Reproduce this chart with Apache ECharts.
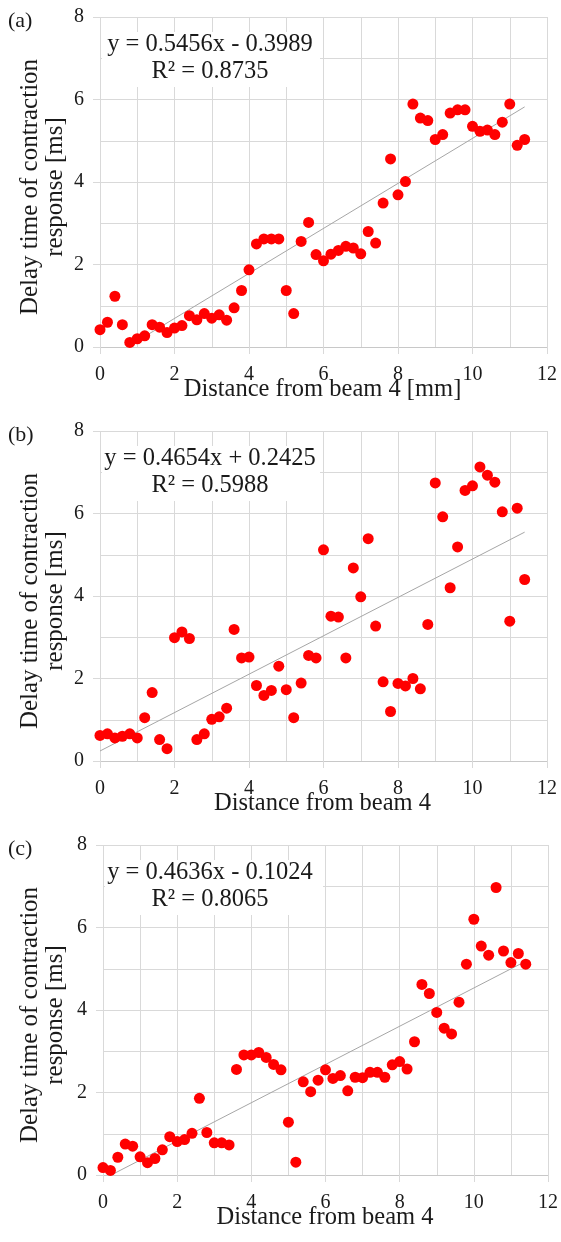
<!DOCTYPE html>
<html>
<head>
<meta charset="utf-8">
<script src="https://cdn.jsdelivr.net/npm/echarts@6/dist/echarts.min.js"></script>
<style>
html,body{margin:0;padding:0;background:#fff;}
#chart{width:561px;height:1242px;}
</style>
</head>
<body>
<div id="chart"></div>
<script>
// Distance from beam 4 (shared x positions)
var distance = [0,0.2,0.4,0.6,0.8,1.0,1.2,1.4,1.6,1.8,2.0,2.2,2.4,2.6,2.8,3.0,3.2,3.4,3.6,3.8,4.0,4.2,4.4,4.6,4.8,5.0,5.2,5.4,5.6,5.8,6.0,6.2,6.4,6.6,6.8,7.0,7.2,7.4,7.6,7.8,8.0,8.2,8.4,8.6,8.8,9.0,9.2,9.4,9.6,9.8,10.0,10.2,10.4,10.6,10.8,11.0,11.2,11.4];

// Delay time [ms] per panel
var delayA = [0.42,0.60,1.23,0.54,0.11,0.20,0.27,0.54,0.48,0.35,
              0.46,0.52,0.76,0.66,0.81,0.70,0.78,0.65,0.95,1.37,
              1.87,2.50,2.62,2.62,2.62,1.37,0.81,2.56,3.02,2.24,
              2.09,2.25,2.34,2.44,2.40,2.26,2.80,2.52,3.49,4.56,
              3.69,4.01,5.89,5.55,5.49,5.03,5.15,5.67,5.75,5.75,
              5.35,5.23,5.26,5.15,5.45,5.89,4.89,5.03];
var delayB = [0.62,0.66,0.56,0.60,0.66,0.56,1.05,1.66,0.52,0.30,
              2.99,3.13,2.97,0.52,0.66,1.01,1.07,1.28,3.19,2.50,
              2.52,1.83,1.59,1.71,2.30,1.73,1.05,1.89,2.56,2.50,
              5.12,3.51,3.49,2.50,4.68,3.98,5.39,3.27,1.92,1.20,
              1.88,1.82,2.00,1.75,3.31,6.74,5.92,4.20,5.19,6.56,
              6.67,7.13,6.93,6.76,6.04,3.39,6.13,4.40];
var delayC = [0.18,0.11,0.43,0.75,0.70,0.44,0.30,0.40,0.61,0.93,
              0.81,0.86,1.01,1.86,1.03,0.78,0.78,0.73,2.56,2.91,
              2.91,2.97,2.85,2.68,2.55,1.28,0.31,2.26,2.02,2.30,
              2.55,2.34,2.41,2.04,2.37,2.36,2.49,2.49,2.37,2.67,
              2.75,2.57,3.23,4.62,4.40,3.94,3.56,3.42,4.19,5.11,
              6.20,5.55,5.33,6.97,5.43,5.15,5.37,5.11];

// Trendline coefficients [slope, intercept] and labels
var slopes = [0.5456, 0.4654, 0.4636];
var intercepts = [-0.3989, 0.2425, -0.1024];
var equations = ['y = 0.5456x - 0.3989', 'y = 0.4654x + 0.2425', 'y = 0.4636x - 0.1024'];
var r2Labels = ['R² = 0.8735', 'R² = 0.5988', 'R² = 0.8065'];
var panelLabels = ['(a)', '(b)', '(c)'];
var xTitles = ['Distance from beam 4 [mm]', 'Distance from beam 4', 'Distance from beam 4'];
var yTitle1 = 'Delay time of contraction';
var yTitle2 = 'response [ms]';

var xMin = 0, xMax = 12, yMin = 0, yMax = 8;

var grids = [
  {left: 100, top: 17, width: 447, height: 330},
  {left: 100, top: 431, width: 447, height: 330},
  {left: 103, top: 845, width: 446, height: 330}
];

var SERIF = '"Liberation Serif","Times New Roman",serif';
var GRID_C = '#d9d9d9';

function pairs(ys) {
  var out = [];
  for (var i = 0; i < distance.length; i++) out.push([distance[i], ys[i]]);
  return out;
}
function trend(k) {
  var a = slopes[k], b = intercepts[k];
  var x0 = Math.max(distance[0], -b / a);
  var x1 = distance[distance.length - 1];
  return [[x0, a * x0 + b], [x1, a * x1 + b]];
}

var datasets = [delayA, delayB, delayC];
var xAxes = [], yAxes = [], series = [], graphics = [];

grids.forEach(function (g, k) {
  xAxes.push({
    type: 'value', gridIndex: k, min: xMin, max: xMax, interval: 2,
    axisLine: {show: true, onZero: false, lineStyle: {color: '#c8c8c8', width: 1}},
    axisTick: {show: true, inside: false, length: 7, lineStyle: {color: GRID_C}},
    axisLabel: {fontFamily: SERIF, fontSize: 20, color: '#1a1a1a', margin: 18},
    splitLine: {show: true, lineStyle: {color: GRID_C, width: 1}},
    minorTick: {show: false, splitNumber: 2},
    minorSplitLine: {show: true, lineStyle: {color: GRID_C, width: 1}}
  });
  yAxes.push({
    type: 'value', gridIndex: k, min: yMin, max: yMax, interval: 2,
    axisLine: {show: false},
    axisTick: {show: true, inside: false, length: 7, lineStyle: {color: GRID_C}},
    axisLabel: {fontFamily: SERIF, fontSize: 20, color: '#1a1a1a', margin: 16},
    splitLine: {show: true, lineStyle: {color: GRID_C, width: 1}},
    minorTick: {show: false, splitNumber: 2},
    minorSplitLine: {show: true, lineStyle: {color: GRID_C, width: 1}}
  });
  series.push({
    type: 'line', xAxisIndex: k, yAxisIndex: k, data: trend(k),
    symbol: 'none', silent: true, z: 3,
    lineStyle: {color: '#a6a6a6', width: 1}
  });
  series.push({
    type: 'scatter', xAxisIndex: k, yAxisIndex: k, data: pairs(datasets[k]),
    symbol: 'circle', symbolSize: 11, z: 4,
    itemStyle: {color: '#ff0000', opacity: 1}
  });

  var cx = g.left + g.width / 2;
  var cy = g.top + g.height / 2;
  // equation box (white background hiding the grid)
  graphics.push({
    type: 'rect', z: 1, silent: true,
    shape: {x: g.left + 2, y: g.top + 15, width: 218, height: 55},
    style: {fill: '#ffffff'}
  });
  graphics.push({
    type: 'text', z: 5, x: 210, y: g.top + 28,
    style: {text: equations[k], font: '24.5px ' + SERIF, fill: '#1a1a1a', textAlign: 'center', textVerticalAlign: 'middle'}
  });
  graphics.push({
    type: 'text', z: 5, x: 210, y: g.top + 55,
    style: {text: r2Labels[k], font: '24.5px ' + SERIF, fill: '#1a1a1a', textAlign: 'center', textVerticalAlign: 'middle'}
  });
  // panel label
  graphics.push({
    type: 'text', z: 5, x: 8, y: g.top + 4,
    style: {text: panelLabels[k], font: '22px ' + SERIF, fill: '#1a1a1a', textAlign: 'left', textVerticalAlign: 'middle'}
  });
  // x title
  graphics.push({
    type: 'text', z: 5, x: cx - 1, y: g.top + g.height + 43,
    style: {text: xTitles[k], font: '24.5px ' + SERIF, fill: '#1a1a1a', textAlign: 'center', textVerticalAlign: 'middle'}
  });
  // y title (two lines, rotated)
  graphics.push({
    type: 'text', z: 5, x: 30, y: cy + 5, rotation: Math.PI / 2,
    style: {text: yTitle1, font: '25px ' + SERIF, fill: '#1a1a1a', textAlign: 'center', textVerticalAlign: 'middle'}
  });
  graphics.push({
    type: 'text', z: 5, x: 55, y: cy + 5, rotation: Math.PI / 2,
    style: {text: yTitle2, font: '25px ' + SERIF, fill: '#1a1a1a', textAlign: 'center', textVerticalAlign: 'middle'}
  });
});

var chart = echarts.init(document.getElementById('chart'), null, {renderer: 'canvas'});
chart.setOption({
  animation: false,
  backgroundColor: '#ffffff',
  grid: grids,
  xAxis: xAxes,
  yAxis: yAxes,
  series: series,
  graphic: {elements: graphics}
});
</script>
</body>
</html>
